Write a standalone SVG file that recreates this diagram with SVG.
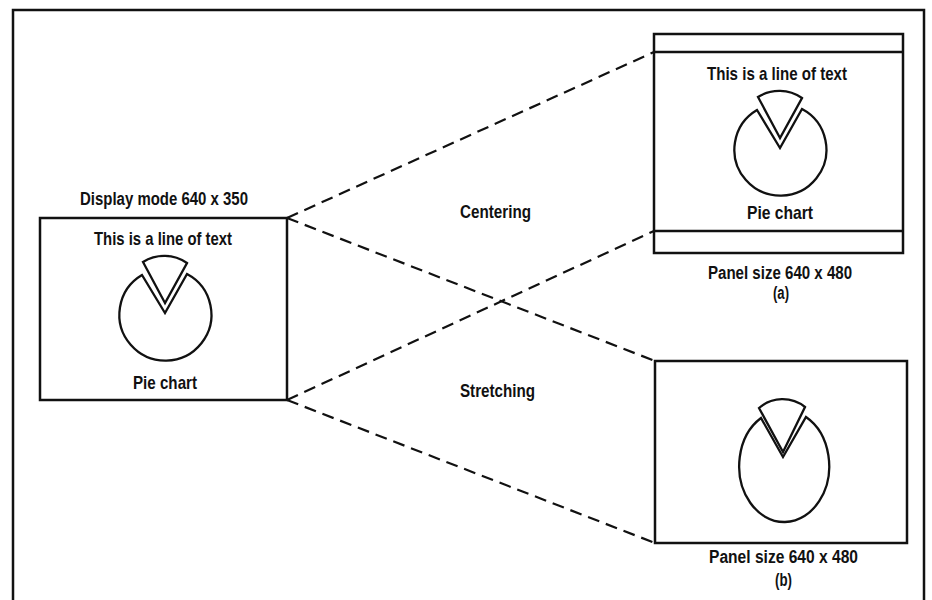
<svg xmlns="http://www.w3.org/2000/svg" xmlns:xlink="http://www.w3.org/1999/xlink" width="932" height="600" viewBox="0 0 932 600">
<style>
.box{fill:none;stroke:#111;stroke-width:2.5}
.pie{fill:#fff;stroke:#111;stroke-width:2.3;stroke-linejoin:miter}
.conn{fill:none;stroke:#111;stroke-width:2.2;stroke-dasharray:12 7}
text{font-family:"Liberation Sans",Arial,sans-serif;font-weight:bold;font-size:18px;fill:#111}
.big{font-size:19px}
</style>
<defs>
<g id="pieShape">
<path class="pie" d="M142,275 A46,46 0 1 0 187,274 L165,313 Z"/>
<path class="pie" d="M165,303 L143,262 A40,40 0 0 1 187,263 Z"/>
</g>
</defs>
<rect width="932" height="600" fill="#fff"/>
<path class="box" d="M13,600 V10 H924 V600"/>
<g id="connectors">
<line class="conn" x1="287" y1="218" x2="654" y2="52"/>
<line class="conn" x1="287" y1="218" x2="655" y2="361"/>
<line class="conn" x1="287" y1="400" x2="654" y2="231"/>
<line class="conn" x1="287" y1="400" x2="655" y2="543"/>
</g>
<g id="label-centering"><text x="460" y="218" textLength="71" lengthAdjust="spacingAndGlyphs">Centering</text></g>
<g id="label-stretching"><text x="460" y="397" textLength="75" lengthAdjust="spacingAndGlyphs">Stretching</text></g>
<g id="display-mode">
<text x="80" y="205" textLength="168" lengthAdjust="spacingAndGlyphs">Display mode 640 x 350</text>
<rect class="box" x="40" y="218" width="247" height="182"/>
<text class="big" x="94" y="245" textLength="138" lengthAdjust="spacingAndGlyphs">This is a line of text</text>
<use xlink:href="#pieShape"/>
<text class="big" x="133" y="389" textLength="64" lengthAdjust="spacingAndGlyphs">Pie chart</text>
</g>
<g id="panel-a">
<rect class="box" x="654" y="34" width="249" height="219"/>
<line class="box" x1="654" y1="52" x2="903" y2="52"/>
<line class="box" x1="654" y1="231" x2="903" y2="231"/>
<text class="big" x="707" y="80" textLength="140" lengthAdjust="spacingAndGlyphs">This is a line of text</text>
<use xlink:href="#pieShape" transform="translate(615,-165)"/>
<text class="big" x="747" y="219" textLength="66" lengthAdjust="spacingAndGlyphs">Pie chart</text>
<text x="708" y="279" textLength="144" lengthAdjust="spacingAndGlyphs">Panel size 640 x 480</text>
<text x="773" y="299" textLength="16" lengthAdjust="spacingAndGlyphs">(a)</text>
</g>
<g id="panel-b">
<rect class="box" x="655" y="361" width="252" height="182"/>
<path class="pie" d="M761,418 A45,56 0 1 0 806,417 L783,457 Z"/>
<path class="pie" d="M783,452 L759,408 A36,36 0 0 1 805,407 Z"/>
<text x="709" y="563" textLength="149" lengthAdjust="spacingAndGlyphs">Panel size  640 x 480</text>
<text x="775" y="586" textLength="17" lengthAdjust="spacingAndGlyphs">(b)</text>
</g>
</svg>
